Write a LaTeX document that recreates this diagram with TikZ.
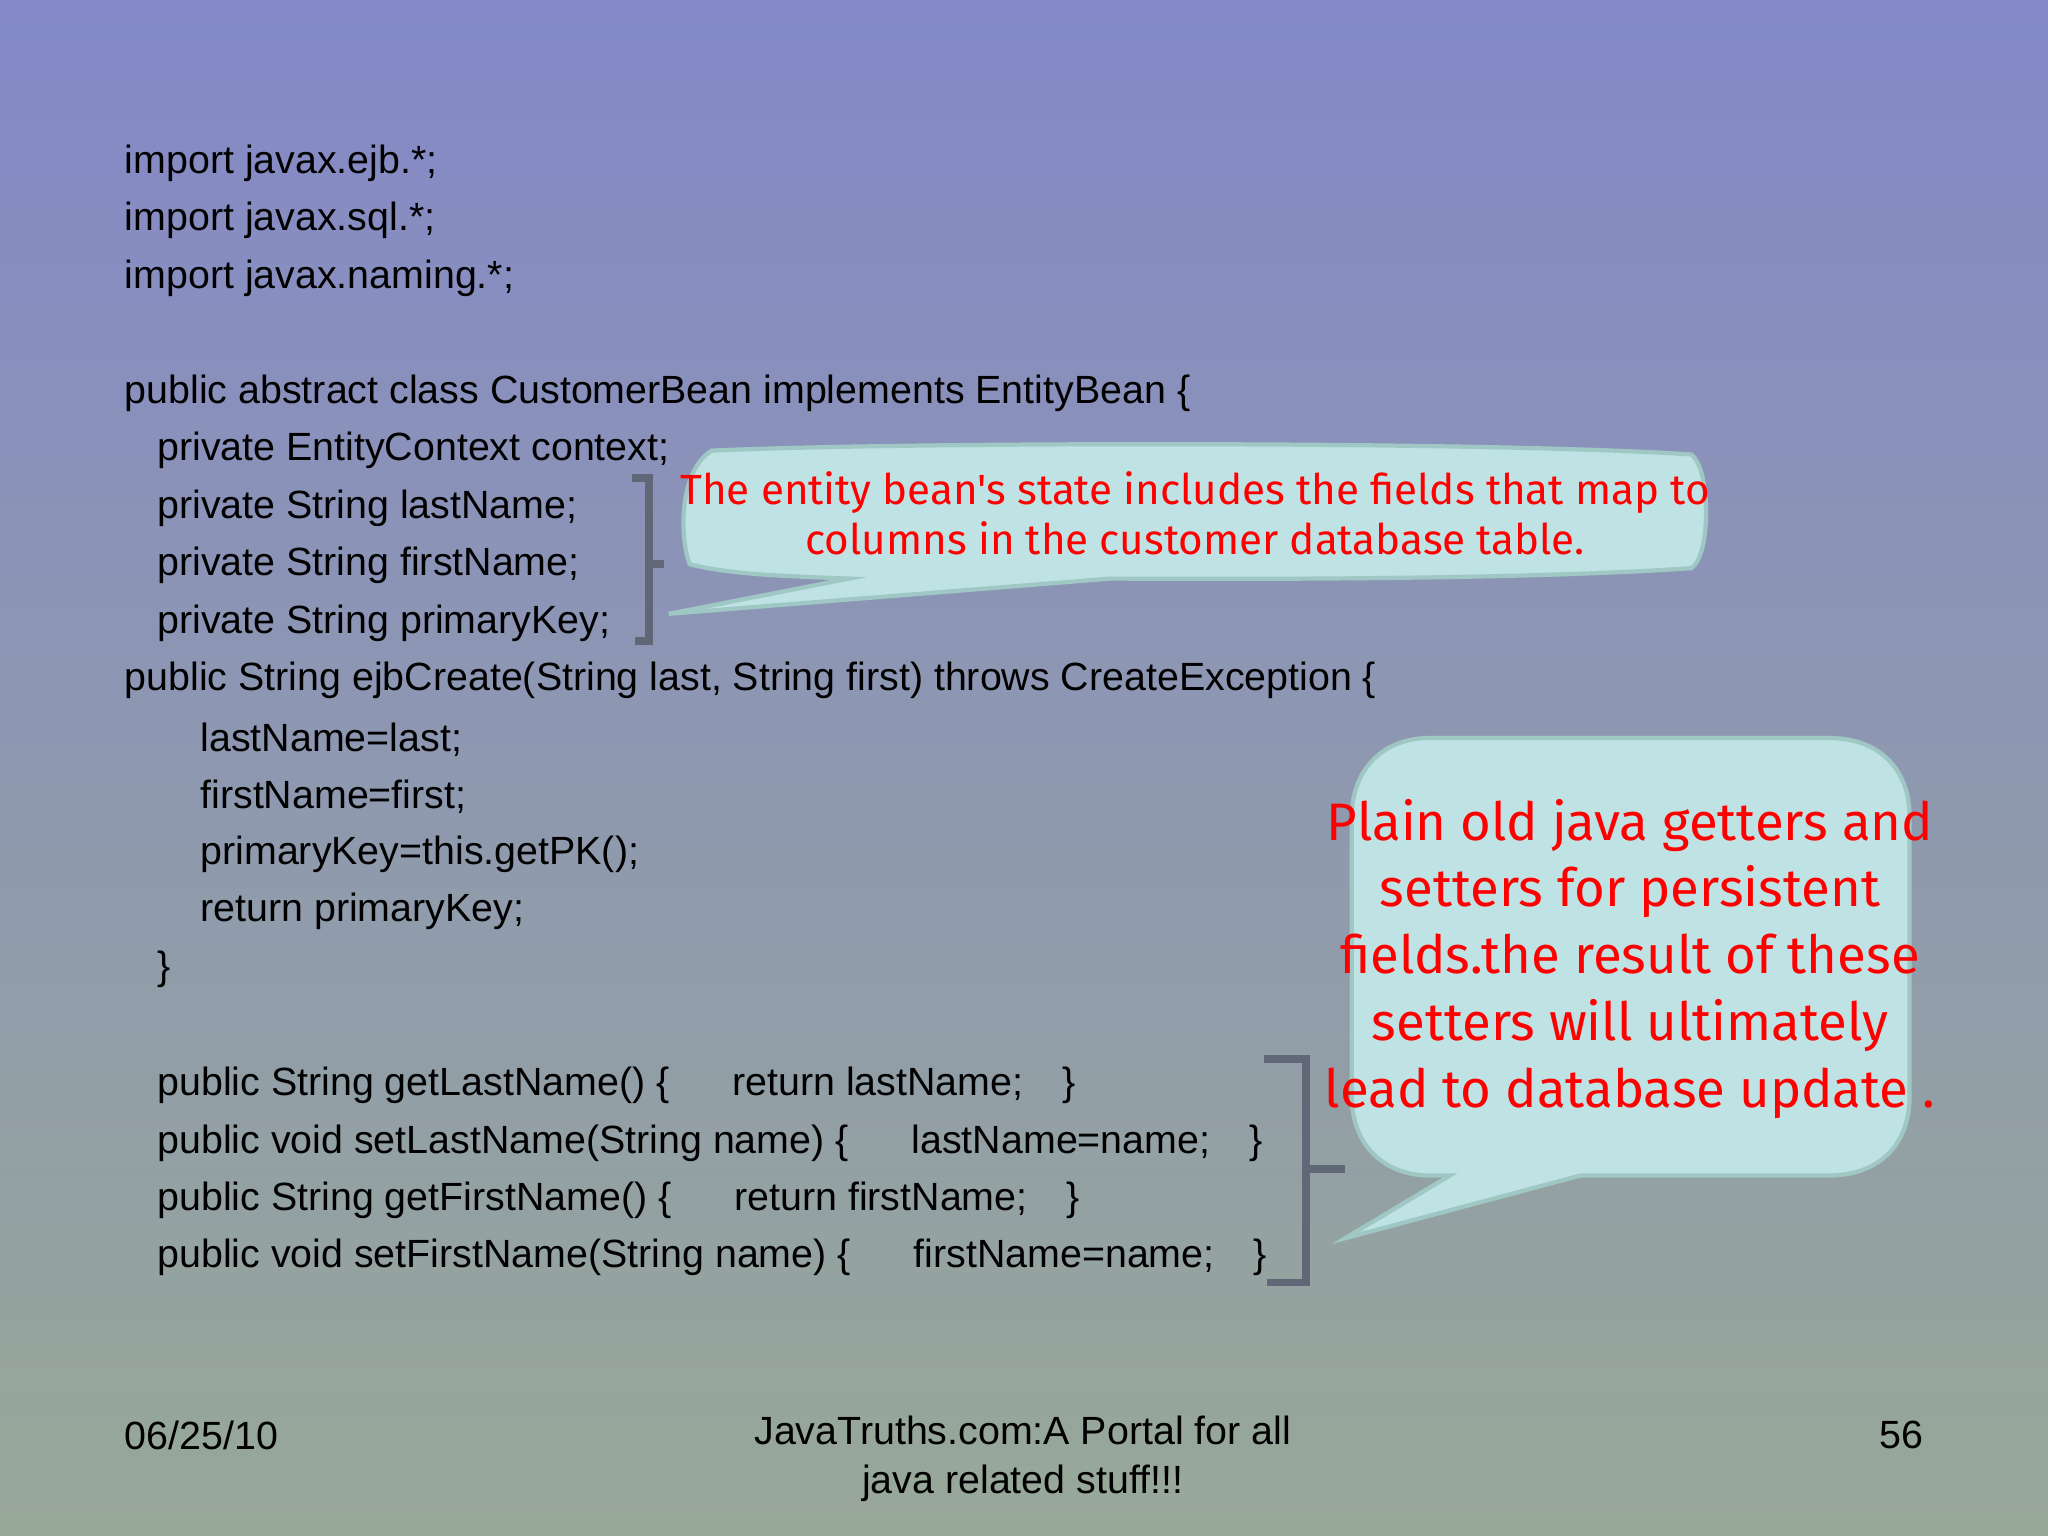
\documentclass[tikz,border=0pt]{standalone}
\usepackage{fontspec}
\setmainfont{Liberation Sans}
\newfontfamily\callfont{Fira Sans}
\definecolor{topc}{HTML}{8488C8}
\definecolor{botc}{HTML}{98A898}
\definecolor{bubble}{HTML}{BFE2E4}
\definecolor{bubbleedge}{HTML}{9FC8C4}
\definecolor{brk}{HTML}{606878}
\tikzset{code/.style={anchor=west,inner sep=0pt,font=\fontsize{11.2pt}{13pt}\selectfont},
 call/.style={align=center,text=red,font=\callfont},
 bub/.style={fill=bubble,draw=bubbleedge,line width=1.2pt},
 brack/.style={draw=brk,line width=2.2pt}}
\begin{document}
\begin{tikzpicture}[x=0.01306cm,y=-0.01306cm]
\shade[top color=topc,bottom color=botc] (0,0) rectangle (1568,1176);
\useasboundingbox (0,0) rectangle (1568,1176);
\foreach \t/\x/\y [count=\i] in {
 {import javax.ejb.*;}/95/125,
 {import javax.sql.*;}/95/169,
 {import javax.naming.*;}/95/213,
 {public abstract class CustomerBean implements EntityBean \{}/95/301,
 {private EntityContext context;}/120/345,
 {private String lastName;}/120/389,
 {private String firstName;}/120/433,
 {private String primaryKey;}/120/477,
 {public String ejbCreate(String last, String first) throws CreateException \{}/95/521,
 {lastName=last;}/153/566,
 {firstName=first;}/153/610,
 {primaryKey=this.getPK();}/153/654,
 {return primaryKey;}/153/698,
 {\}}/120/742,
 {public String getLastName() \{\hspace{1.6em}return lastName;\hspace{1em}\}}/120/831,
 {public void setLastName(String name) \{\hspace{1.6em}lastName=name;\hspace{1em}\}}/120/875,
 {public String getFirstName() \{\hspace{1.6em}return firstName;\hspace{1em}\}}/120/919,
 {public void setFirstName(String name) \{\hspace{1.6em}firstName=name;\hspace{1em}\}}/120/963}
 \node[code] (l\i) at (\x,\y) {\t};
% bracket 1
\draw[brack] (484,366) -- (497,366) -- (497,491) -- (486,491);
\draw[brack] (497,432) -- (508,432);
% bracket 2
\draw[brack] (968,811) -- (1000,811) -- (1000,982) -- (970,982);
\draw[brack] (1000,895) -- (1030,895);
% callout 1
\draw[bub] (545,345) .. controls (700,338) and (1150,338) .. (1295,348)
 .. controls (1310,360) and (1310,425) .. (1295,435)
 .. controls (1150,445) and (900,443) .. (850,443) -- (512,470) -- (650,443)
 .. controls (600,441) and (560,440) .. (528,432)
 .. controls (520,410) and (520,360) .. (545,345) -- cycle;
\node[call,font=\callfont\fontsize{12pt}{14.5pt}\selectfont] (c1) at (915,393) {The entity bean's state includes the fields that map to\\columns in the customer database table.};
% callout 2
\draw[bub] (1095,565) -- (1400,565) .. controls (1440,565) and (1462,590) .. (1462,625)
 -- (1462,840) .. controls (1462,875) and (1440,900) .. (1400,900)
 -- (1210,900) -- (1030,948) -- (1110,900) -- (1095,900)
 .. controls (1058,900) and (1035,875) .. (1035,840) -- (1035,625)
 .. controls (1035,590) and (1058,565) .. (1095,565) -- cycle;
\node[call,font=\callfont\fontsize{15pt}{19pt}\selectfont] (c2) at (1248,734) {Plain old java getters and\\setters for persistent\\fields.the result of these\\setters will ultimately\\lead to database update .};
% footer
\node[code] (f1) at (95,1099) {06/25/10};
\node[align=center,font=\fontsize{11.2pt}{14pt}\selectfont] (f2) at (783,1117) {JavaTruths.com:A Portal for all\\java related stuff!!!};
\node[anchor=east,inner sep=0pt,font=\fontsize{11.2pt}{13pt}\selectfont] (f3) at (1473,1099) {56};
\end{tikzpicture}
\end{document}
